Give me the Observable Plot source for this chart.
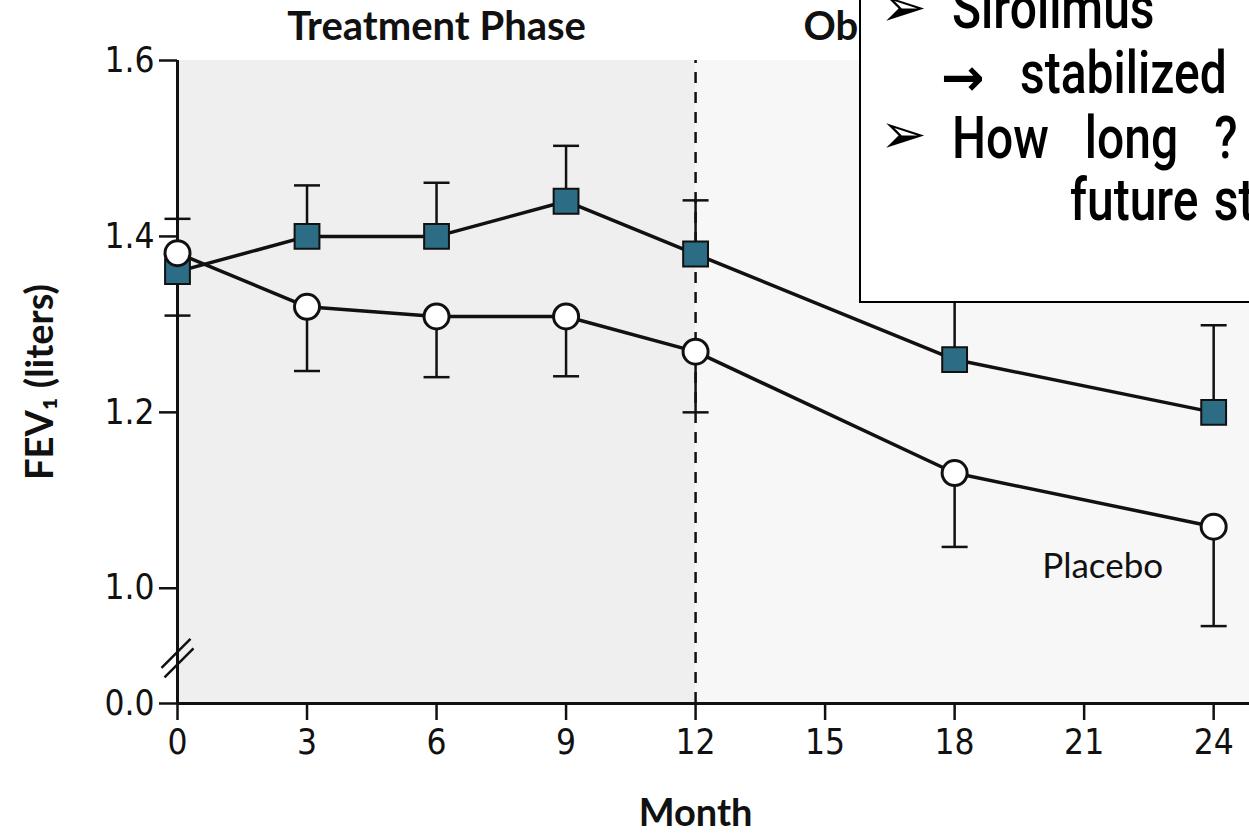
<!DOCTYPE html>
<html><head><meta charset="utf-8">
<script src="https://cdn.jsdelivr.net/npm/d3@7"></script>
<script src="https://cdn.jsdelivr.net/npm/@observablehq/plot@0.6"></script>
<style>
body{margin:0;background:#fff;}
#wrap{position:relative;width:1249px;height:835px;overflow:hidden;}
#chart{position:absolute;left:0;top:0;}
#box{position:absolute;left:859px;top:-4px;width:430px;height:307px;border:2.5px solid #000;background:#fff;box-sizing:border-box;}
.ln{position:absolute;white-space:nowrap;font-family:Roboto,"Liberation Sans",sans-serif;font-size:60px;font-weight:500;line-height:1;transform-origin:0 0;transform:scaleX(0.8);color:#000;word-spacing:30px;}
.ar{position:absolute;white-space:nowrap;font-family:"DejaVu Sans",sans-serif;line-height:1;color:#000;}
</style></head>
<body>
<div id="wrap"><div id="chart"></div>
<div id="box"></div>
<div class="ar" style="left:880px;top:-21px;font-size:56px;">➢</div>
<div class="ln" style="left:952px;top:-22px;">Sirolimus</div>
<div class="ar" style="left:941px;top:51px;font-size:52px;font-weight:bold;">→</div>
<div class="ln" style="left:1020px;top:43px;">stabilized</div>
<div class="ar" style="left:880px;top:106px;font-size:56px;">➢</div>
<div class="ln" style="left:952px;top:108px;">How long ?</div>
<div class="ln" style="left:1070px;top:170px;word-spacing:4px;">future studies</div>
</div>
<script>
const months = [0, 3, 6, 9, 12, 18, 24];
const siroMean = [1.36, 1.40, 1.40, 1.44, 1.38, 1.26, 1.20];
const siroUpper = [1.42, 1.458, 1.461, 1.503, 1.441, 1.34, 1.299];
const placMean = [1.381, 1.32, 1.309, 1.309, 1.269, 1.131, 1.07];
const placLower = [1.31, 1.247, 1.24, 1.241, 1.2, 1.047, 0.957];
const xTicks = [0, 3, 6, 9, 12, 15, 18, 21, 24];
const yTicks = [0.869, 1.0, 1.2, 1.4, 1.6];
const yTickLabels = ["0.0", "1.0", "1.2", "1.4", "1.6"];
const xMax = 24.83, yMin = 0.869, yMax = 1.6;
const phaseStart = [0, 12], phaseEnd = [12, xMax];
const phaseTitles = ["Treatment Phase", "Observation Phase"];
const phaseCenters = [6, 18.4];
const breakY = 0.921;
const seriesLabels = [{x: 21.43, y: 1.024, t: "Placebo"}];
const xLabel = "Month", yLabel = "FEV₁ (liters)";

const siro = months.map((m, i) => ({month: m, value: siroMean[i], err: siroUpper[i]}));
const plac = months.map((m, i) => ({month: m, value: placMean[i], err: placLower[i]}));

const capSymbol = {draw(ctx, size) { const r = Math.sqrt(size / Math.PI); ctx.moveTo(-r, 0); ctx.lineTo(r, 0); }};
const breakSymbol = {draw(ctx, size) {
  ctx.moveTo(-16, 10); ctx.lineTo(13, -19);
  ctx.moveTo(-13, 19.5); ctx.lineTo(16, -9.5);
}};
const F = "Lato, 'DejaVu Sans', sans-serif";
const TF = "'DejaVu Sans Condensed', 'DejaVu Sans', sans-serif";

const chart = Plot.plot({
  width: 1249, height: 835,
  marginLeft: 177, marginTop: 60, marginBottom: 132, marginRight: 0,
  x: {domain: [0, xMax]},
  y: {domain: [yMin, yMax]},
  style: {fontFamily: F, background: "transparent", color: "#111"},
  marks: [
    Plot.rect([0], {x1: phaseStart[0], x2: phaseEnd[0], y1: yMin, y2: yMax, fill: "#efefef"}),
    Plot.rect([0], {x1: phaseStart[1], x2: phaseEnd[1], y1: yMin, y2: yMax, fill: "#f7f7f7"}),
    Plot.axisX({ticks: xTicks, tickSize: 17, tickPadding: 9, fontSize: 35, fontFamily: TF, label: null, strokeWidth: 2.5}),
    Plot.axisY({ticks: yTicks, tickFormat: d => yTickLabels[yTicks.indexOf(d)], tickSize: 18, tickPadding: 5, fontSize: 35, fontFamily: TF, label: null, strokeWidth: 2.5}),
    Plot.ruleX([phaseStart[1]], {y1: yMin, y2: yMax, strokeWidth: 2.5, strokeDasharray: "11,9"}),
    Plot.ruleX([0], {y1: yMin, y2: yMax, strokeWidth: 3}),
    Plot.ruleY([yMin], {strokeWidth: 3}),
    Plot.dot([0], {x: 0, y: breakY, symbol: breakSymbol, r: 10, stroke: "#111", strokeWidth: 2.5, fill: "none"}),
    Plot.ruleX(siro, {x: "month", y1: "value", y2: "err", strokeWidth: 2.5, stroke: "#111"}),
    Plot.ruleX(plac, {x: "month", y1: "value", y2: "err", strokeWidth: 2.5, stroke: "#111"}),
    Plot.dot(siro, {x: "month", y: "err", symbol: capSymbol, r: 13, stroke: "#111", strokeWidth: 2.5, fill: "none"}),
    Plot.dot(plac, {x: "month", y: "err", symbol: capSymbol, r: 13, stroke: "#111", strokeWidth: 2.5, fill: "none"}),
    Plot.line(siro, {x: "month", y: "value", stroke: "#111", strokeWidth: 3.5}),
    Plot.line(plac, {x: "month", y: "value", stroke: "#111", strokeWidth: 3.5}),
    Plot.dot(siro, {x: "month", y: "value", symbol: "square", r: 14, fill: "#2c6c85", stroke: "#111", strokeWidth: 2}),
    Plot.dot(plac, {x: "month", y: "value", r: 12.5, fill: "white", stroke: "#111", strokeWidth: 3}),
    Plot.text(phaseTitles.map((t, i) => ({t, x: phaseCenters[i]})), {x: "x", text: "t", frameAnchor: "top", lineAnchor: "middle", dy: -33, fontSize: 40, fontWeight: "bold"}),
    Plot.text([yLabel], {frameAnchor: "left", textAnchor: "middle", lineAnchor: "middle", rotate: -90, dx: -137, fontSize: 38, fontWeight: "bold"}),
    Plot.text([{x: 12, t: xLabel}], {x: "x", text: "t", frameAnchor: "bottom", lineAnchor: "middle", dy: 110, fontSize: 38, fontWeight: "bold"}),
    Plot.text(seriesLabels, {x: "x", y: "y", text: "t", fontSize: 35})
  ]
});
document.getElementById("chart").appendChild(chart);
</script>
</body></html>
